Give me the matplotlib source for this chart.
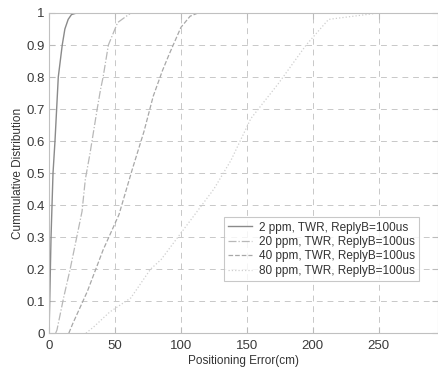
import numpy as np
import matplotlib.pyplot as plt

plt.rcParams['font.family'] = ['Liberation Sans', 'DejaVu Sans']

# CDF points (x in cm, y cumulative)
x_2ppm = [0, 0.5, 1.5, 3, 4.5, 7, 10, 12, 14.5, 17, 21, 300]
y_2ppm = [0, 0.1, 0.3, 0.5, 0.6, 0.8, 0.9, 0.95, 0.98, 0.995, 1, 1]

x_20ppm = [5, 6, 11, 16, 21, 25, 27.5, 31, 36.5, 39, 41, 45, 52, 62, 300]
y_20ppm = [0, 0.01, 0.11, 0.2, 0.3, 0.38, 0.48, 0.56, 0.7, 0.76, 0.8, 0.9, 0.97, 1, 1]

x_40ppm = [15, 18, 29, 41, 53, 63, 72, 79, 86, 91, 100, 107, 113, 300]
y_40ppm = [0, 0.03, 0.13, 0.26, 0.37, 0.51, 0.63, 0.74, 0.82, 0.87, 0.955, 0.99, 1, 1]

x_80ppm = [28, 34, 46, 62, 77, 85, 105, 125, 138, 153, 174, 195, 212, 250, 300]
y_80ppm = [0, 0.02, 0.066, 0.11, 0.2, 0.23, 0.34, 0.45, 0.54, 0.67, 0.78, 0.9, 0.98, 1, 1]

labels = ['2 ppm, TWR, ReplyB=100us', '20 ppm, TWR, ReplyB=100us',
          '40 ppm, TWR, ReplyB=100us', '80 ppm, TWR, ReplyB=100us']

fig = plt.figure(figsize=(4.38, 3.71), dpi=100)
ax = fig.add_axes([0.112, 0.102, 0.888, 0.863])

ax.plot(x_2ppm, y_2ppm, color='#8a8a8a', lw=1.0, ls='-', label=labels[0])
ax.plot(x_20ppm, y_20ppm, color='#b8b8b8', lw=0.9, ls='-.', label=labels[1])
ax.plot(x_40ppm, y_40ppm, color='#a8a8a8', lw=0.9, ls='--', label=labels[2])
ax.plot(x_80ppm, y_80ppm, color='#cfcfcf', lw=0.9, ls=':', label=labels[3])

ax.set_xlim(0, 295)
ax.set_ylim(0, 1)
ax.set_xticks([0, 50, 100, 150, 200, 250])
ax.set_yticks(np.arange(0, 1.01, 0.1))
ax.set_yticklabels(['0', '0.1', '0.2', '0.3', '0.4', '0.5', '0.6', '0.7', '0.8', '0.9', '1'])
ax.grid(True, ls=(0, (6, 5)), color='#c8c8c8', lw=0.7)
ax.tick_params(direction='in', length=4, colors='#bbbbbb', labelcolor='#3a3a3a',
               labelsize=9.5, top=True, right=True, pad=3)
ax.tick_params(axis='x', pad=5)
for s in ax.spines.values():
    s.set_color('#c0c0c0')
    s.set_linewidth(0.8)

ax.set_xlabel('Positioning Error(cm)', fontsize=8.5, color='#333333', labelpad=2)
ax.set_ylabel('Cummulative Distribution', fontsize=8.5, color='#333333', labelpad=2)

leg = ax.legend(loc='lower left', bbox_to_anchor=(0.435, 0.145), fontsize=8.5,
                frameon=True, fancybox=False, handlelength=2.0, handletextpad=0.6,
                borderpad=0.35, labelspacing=0.2, labelcolor='#333333')
leg.get_frame().set_edgecolor('#bbbbbb')
leg.get_frame().set_linewidth(0.8)

fig.savefig('out.png', dpi=100)
